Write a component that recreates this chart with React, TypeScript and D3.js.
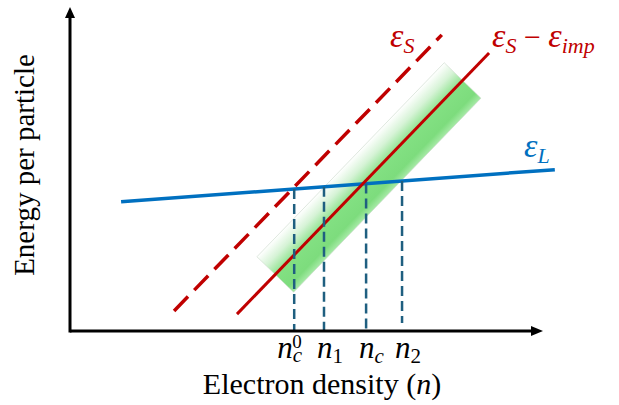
import * as d3 from 'd3';

// schematic values (x: electron density, y: energy per particle, both 0..10)
const epsSX = [2.2, 7.86];
const epsSY = [0.62, 9.14];
const epsSImpX = [3.53, 8.86];
const epsSImpY = [0.52, 8.58];
const epsLX = [1.08, 10.25];
const epsLY = [3.99, 4.98];

// range of the impurity band along the eps_S - eps_imp line
const bandX = [4.34, 8.3];

// marked densities and where their drop lines stop
const densityNames = ['nc0', 'n1', 'nc', 'n2'];
const densityX = [4.74, 5.37, 6.26, 7.02];
const dropBottom = [0, 0, 0, 0.25];

const W = 619;
const H = 405;

const RED = '#c00000';
const BLUE = '#0070c0';
const TEAL = '#1f5f80';
const MATH = '"Liberation Serif", "DejaVu Serif", serif';

const x = d3.scaleLinear().domain([0, 10]).range([70, 543]);
const y = d3.scaleLinear().domain([0, 10]).range([331, 7]);

const at = (xs: number[], ys: number[], v: number) =>
  d3.scaleLinear().domain(xs).range(ys)(v);

const line = d3
  .line<[number, number]>()
  .x((d) => x(d[0]))
  .y((d) => y(d[1]));

const pts = (xs: number[], ys: number[]) =>
  xs.map((v, i) => [v, ys[i]] as [number, number]);

function Band() {
  const p0 = [x(bandX[0]), y(at(epsSImpX, epsSImpY, bandX[0]))];
  const p1 = [x(bandX[1]), y(at(epsSImpX, epsSImpY, bandX[1]))];
  const len = Math.hypot(p1[0] - p0[0], p1[1] - p0[1]);
  const dx = (p1[0] - p0[0]) / len;
  const dy = (p1[1] - p0[1]) / len;
  const half = 25.5;
  // perpendicular pointing up-left
  const nx = dy * half;
  const ny = -dx * half;
  const corners = [
    [p0[0] + nx, p0[1] + ny],
    [p1[0] + nx, p1[1] + ny],
    [p1[0] - nx, p1[1] - ny],
    [p0[0] - nx, p0[1] - ny],
  ];
  const mid = [(p0[0] + p1[0]) / 2, (p0[1] + p1[1]) / 2];
  return (
    <g>
      <defs>
        <linearGradient
          id="bandGrad"
          gradientUnits="userSpaceOnUse"
          x1={mid[0] + nx}
          y1={mid[1] + ny}
          x2={mid[0] - nx}
          y2={mid[1] - ny}
        >
          <stop offset="0" stopColor="#ffffff" />
          <stop offset="0.25" stopColor="#d6f3d6" />
          <stop offset="0.55" stopColor="#82e082" />
          <stop offset="0.85" stopColor="#7ddc7d" />
          <stop offset="1" stopColor="#a6eaa6" />
        </linearGradient>
      </defs>
      <polygon
        points={corners.map((c) => c.join(',')).join(' ')}
        fill="url(#bandGrad)"
        stroke="#c9d9c9"
        strokeWidth={0.6}
      />
    </g>
  );
}

function DensityLabel({ name, cx }: { name: string; cx: number }) {
  const base = 358;
  const fs = 31;
  const ss = 21;
  if (name === 'nc0') {
    return (
      <g fontFamily={MATH} fontSize={fs} fontStyle="italic">
        <text x={cx - 17} y={base}>
          n<tspan dy={4} fontSize={ss}>c</tspan>
        </text>
        <text x={cx - 2} y={base - 10} fontSize={ss - 2} fontStyle="normal">0</text>
      </g>
    );
  }
  const sub = name.slice(1);
  const isDigit = /\d/.test(sub);
  return (
    <text x={cx - 7} y={base} fontFamily={MATH} fontSize={fs} fontStyle="italic">
      n
      <tspan dy={5} fontSize={ss} fontStyle={isDigit ? 'normal' : 'italic'}>
        {sub}
      </tspan>
    </text>
  );
}

export default function App() {
  return (
    <svg
      width={W}
      height={H}
      viewBox={`0 0 ${W} ${H}`}
      style={{ position: 'absolute', left: 0, top: 0, background: '#fff' }}
    >
      <Band />

      <path d={line(pts(epsLX, epsLY)) ?? ''} fill="none" stroke={BLUE} strokeWidth={3.5} />
      <path
        d={line(pts(epsSX, epsSY)) ?? ''}
        fill="none"
        stroke={RED}
        strokeWidth={3.5}
        strokeDasharray="20 9"
      />
      <path d={line(pts(epsSImpX, epsSImpY)) ?? ''} fill="none" stroke={RED} strokeWidth={3} />

      {densityX.map((v, i) => (
        <line
          key={densityNames[i]}
          x1={x(v)}
          x2={x(v)}
          y1={y(at(epsLX, epsLY, v))}
          y2={y(dropBottom[i])}
          stroke={TEAL}
          strokeWidth={2.5}
          strokeDasharray="10 5"
        />
      ))}

      {/* axes */}
      <line x1={x(0)} y1={y(0)} x2={x(10) - 10} y2={y(0)} stroke="#000" strokeWidth={3} />
      <line x1={x(0)} y1={y(0) + 1.5} x2={x(0)} y2={y(10) + 9} stroke="#000" strokeWidth={3} />
      <polygon
        points={`${x(10)},${y(0)} ${x(10) - 12},${y(0) - 5} ${x(10) - 12},${y(0) + 5}`}
        fill="#000"
      />
      <polygon
        points={`${x(0)},${y(10)} ${x(0) - 5},${y(10) + 11} ${x(0) + 5},${y(10) + 11}`}
        fill="#000"
      />

      {densityX.map((v, i) => (
        <DensityLabel key={densityNames[i]} name={densityNames[i]} cx={x(v)} />
      ))}

      {/* curve labels */}
      <g fontFamily={MATH} fontStyle="italic" fill={RED}>
        <text x={390} y={47} fontSize={34}>
          ε<tspan dy={6} fontSize={22}>S</tspan>
        </text>
        <text x={492} y={47} fontSize={34}>
          ε<tspan dy={6} fontSize={22}>S</tspan>
          <tspan dy={-6} fontStyle="normal" fontSize={30}> − </tspan>ε
          <tspan dy={6} fontSize={22}>imp</tspan>
        </text>
      </g>
      <text x={524} y={157} fontFamily={MATH} fontStyle="italic" fontSize={34} fill={BLUE}>
        ε<tspan dy={6} fontSize={22}>L</tspan>
      </text>

      {/* axis titles */}
      <text
        x={322}
        y={394}
        textAnchor="middle"
        fontFamily={MATH}
        fontSize={30}
        fill="#000"
      >
        Electron density (<tspan fontStyle="italic">n</tspan>)
      </text>
      <text
        transform="translate(34,165) rotate(-90)"
        textAnchor="middle"
        fontFamily={MATH}
        fontSize={29}
        fill="#000"
      >
        Energy per particle
      </text>
    </svg>
  );
}
